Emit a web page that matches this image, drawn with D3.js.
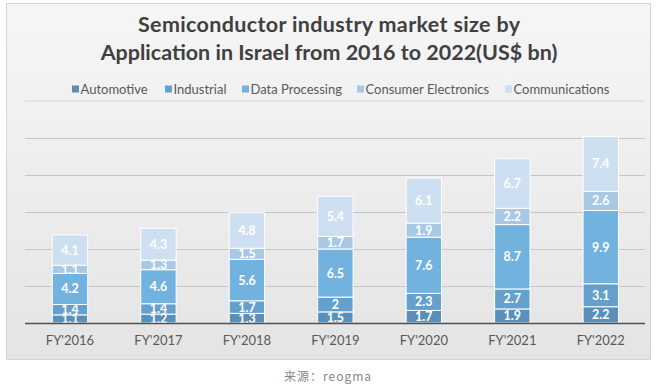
<!DOCTYPE html>
<html><head><meta charset="utf-8">
<script src="https://cdn.jsdelivr.net/npm/d3@7/dist/d3.min.js"></script>
<style>body{margin:0;background:#fff;}svg{display:block;}</style>
</head><body>
<svg id="c" width="657" height="387"></svg>
<script>
const years = ["FY'2016","FY'2017","FY'2018","FY'2019","FY'2020","FY'2021","FY'2022"];
const seriesNames = ["Automotive","Industrial","Data Processing","Consumer Electronics","Communications"];
const automotive = [1.1,1.2,1.3,1.5,1.7,1.9,2.2];
const industrial = [1.4,1.4,1.7,2,2.3,2.7,3.1];
const dataProcessing = [4.2,4.6,5.6,6.5,7.6,8.7,9.9];
const consumerElectronics = [1.1,1.3,1.5,1.7,1.9,2.2,2.6];
const communications = [4.1,4.3,4.8,5.4,6.1,6.7,7.4];
const yTicks = [5,10,15,20,25,30];
const colors = ["#5a8fba","#659fcc","#72b2de","#a8c8e3","#cddff0"];

const svg = d3.select("#c");
const defs = svg.append("defs");
const g = defs.append("linearGradient").attr("id","bg").attr("x1",0).attr("y1",0).attr("x2",0).attr("y2",1);
g.append("stop").attr("offset","0%").attr("stop-color","#f6f6f6");
g.append("stop").attr("offset","100%").attr("stop-color","#e4e4e4");
svg.append("rect").attr("x",6.5).attr("y",3.5).attr("width",644).attr("height",356)
  .attr("fill","url(#bg)").attr("stroke","#d4d4d4");

svg.append("text").attr("x",329).attr("y",32).attr("text-anchor","middle")
  .attr("font-family","Lato").attr("font-weight","bold").attr("font-size",21.5).attr("fill","#404040")
  .attr("textLength",382).attr("lengthAdjust","spacing")
  .text("Semiconductor industry market size by");
svg.append("text").attr("x",329).attr("y",60).attr("text-anchor","middle")
  .attr("font-family","Lato").attr("font-weight","bold").attr("font-size",21.5).attr("fill","#404040")
  .text("Application in Israel from 2016 to 2022(US$ bn)");

const table = years.map((y,i)=>({year:y,
  "Automotive":automotive[i],"Industrial":industrial[i],"Data Processing":dataProcessing[i],
  "Consumer Electronics":consumerElectronics[i],"Communications":communications[i]}));
const stack = d3.stack().keys(seriesNames)(table);

const x = d3.scaleBand().domain(years).range([25.75,645]).paddingInner(0.6).paddingOuter(0.3);
const y = d3.scaleLinear().domain([0,30]).range([323,101]);

svg.append("g").selectAll("line").data(yTicks).join("line")
  .attr("x1",25).attr("x2",645).attr("y1",d=>Math.round(y(d))+0.5).attr("y2",d=>Math.round(y(d))+0.5)
  .attr("stroke",(d,i)=>i===yTicks.length-1?"#e2e2e2":"#c6c6c6").attr("stroke-width",1);

const layers = svg.append("g").selectAll("g").data(stack).join("g").attr("fill",(d,i)=>colors[i]);
layers.selectAll("rect").data(d=>d).join("rect")
  .attr("x",d=>x(d.data.year)).attr("width",x.bandwidth())
  .attr("y",d=>y(d[1])).attr("height",d=>y(d[0])-y(d[1]))
  .attr("stroke","#ffffff").attr("stroke-width",1);

const labels = svg.append("g");
stack.forEach((s,si)=>{
  labels.selectAll(null).data(s).join("text")
    .attr("x",d=>x(d.data.year)+x.bandwidth()/2)
    .attr("y",d=>(y(d[0])+y(d[1]))/2+4.5)
    .attr("text-anchor","middle").attr("font-family","Lato").attr("font-weight","bold")
    .attr("font-size",12.5).attr("fill","#ffffff")
    .text(d=>d.data[s.key]);
});

svg.append("line").attr("x1",25).attr("x2",645).attr("y1",323.5).attr("y2",323.5)
  .attr("stroke","#505050").attr("stroke-width",1.5);

const xAxis = svg.append("g").attr("transform","translate(0,323)")
  .call(d3.axisBottom(x).tickSize(0).tickPadding(13));
xAxis.select(".domain").remove();
xAxis.selectAll("text").attr("font-family","Lato").attr("font-size",13).attr("fill","#595959");

const legendX = [72,165,242,357,505];
const lg = svg.append("g");
seriesNames.forEach((n,i)=>{
  lg.append("rect").attr("x",legendX[i]).attr("y",85.5).attr("width",7).attr("height",7).attr("fill",colors[i]);
  lg.append("text").attr("x",legendX[i]+8.5).attr("y",93.5).attr("font-family","Lato").attr("font-size",13)
    .attr("fill","#595959").text(n);
});
svg.append("line").attr("x1",25).attr("x2",645).attr("y1",100.5).attr("y2",100.5).attr("stroke","#e6e6e6");

svg.append("text").attr("x",328).attr("y",381).attr("text-anchor","middle")
  .attr("font-family","'Noto Sans CJK SC', 'DejaVu Sans'").attr("font-size",12).attr("letter-spacing",1)
  .attr("fill","#888888").text("来源：reogma");
</script>
</body></html>
